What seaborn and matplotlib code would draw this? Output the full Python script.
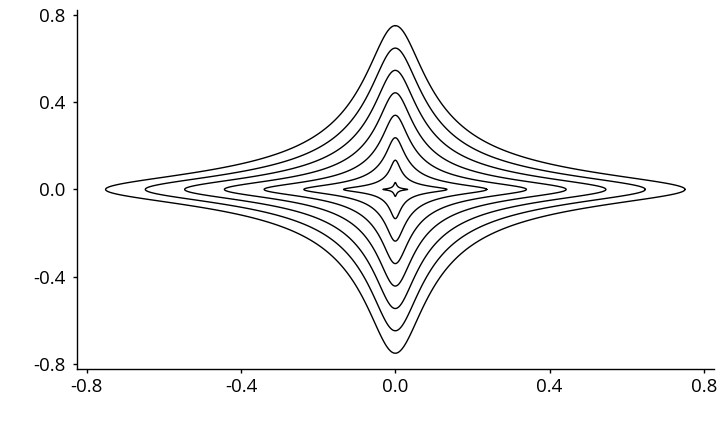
import numpy as np
import matplotlib
matplotlib.use("Agg")
import matplotlib.pyplot as plt
import seaborn as sns

# Reach of each contour along the axes
contour_reach = [0.032, 0.134, 0.237, 0.340, 0.443, 0.546, 0.648, 0.751]
x_ticks = [-0.8, -0.4, 0.0, 0.4, 0.8]
y_ticks = [-0.8, -0.4, 0.0, 0.4, 0.8]
tick_labels = ["-0.8", "-0.4", "0.0", "0.4", "0.8"]

# Each contour is a star of the form (1 + x^2/s^2)(1 + y^2/s^2) = const,
# with its width s a fixed share of its reach.
width_share = 0.1

grid = np.linspace(-0.8, 0.8, 1601)
X, Y = np.meshgrid(grid, grid)

sns.set_theme(style="ticks")
plt.rcParams["font.family"] = ["Open Sans", "DejaVu Sans"]

fig = plt.figure(figsize=(7.2, 4.32), dpi=100)
ax = fig.add_axes([0.107, 0.145, 0.884, 0.833])

for reach in contour_reach:
    s = width_share * reach
    Z = (1 + (X / s) ** 2) * (1 + (Y / s) ** 2)
    ax.contour(X, Y, Z, levels=[1 + (reach / s) ** 2],
               colors="black", linewidths=1.0)

ax.set_xlim(-0.825, 0.825)
ax.set_ylim(-0.825, 0.825)
ax.set_xticks(x_ticks)
ax.set_xticklabels(tick_labels)
ax.set_yticks(y_ticks)
ax.set_yticklabels(tick_labels)
ax.set_xlabel("")
ax.set_ylabel("")
sns.despine(ax=ax)
for side in ["left", "bottom"]:
    ax.spines[side].set_linewidth(1.0)
    ax.spines[side].set_color("black")
ax.tick_params(axis="both", length=3, width=1.0, color="black",
               labelsize=13.5, labelcolor="black")
ax.tick_params(axis="y", pad=5.5)
ax.tick_params(axis="x", pad=3)
ax.set_facecolor("white")
fig.patch.set_facecolor("white")

fig.savefig("out.png", dpi=100)
